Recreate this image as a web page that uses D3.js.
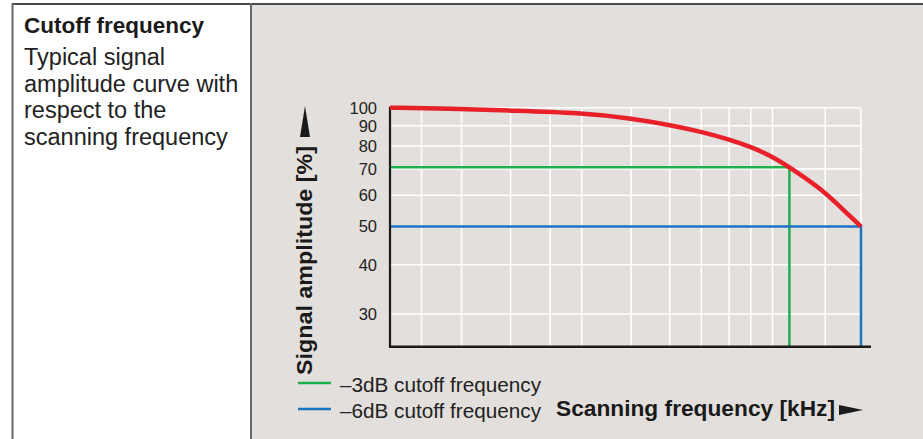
<!DOCTYPE html>
<html>
<head>
<meta charset="utf-8">
<script src="https://cdn.jsdelivr.net/npm/d3@7"></script>
<style>
  html, body { margin: 0; padding: 0; background: #fff; }
  svg { display: block; font-family: "Liberation Sans", Arial, Helvetica, sans-serif; }
</style>
</head>
<body>
<svg id="chart" width="923" height="439"></svg>
<script>
// frequency as % of the -6dB cutoff frequency (no tick labels on that axis)
var freqPct = [0, 12.7, 25.5, 40.3, 51.2, 59.4, 66.1, 72, 76.6, 81.2, 84.8, 91.3, 95.5, 100];
var amplitude = [100, 99.5, 98.3, 97.1, 94.0, 90.4, 86.9, 83.1, 79.6, 75.2, 70.7, 62.6, 56.2, 50];

var yTicks = [100, 90, 80, 70, 60, 50, 40, 30];
var xGrid = [6.7, 15.2, 25.6, 34, 40.7, 51.2, 59.4, 66.1, 72, 76.6, 81.2, 92.4, 100];

var cutoff3dB = {freq: 84.8, amp: 70.7};
var cutoff6dB = {freq: 100, amp: 50};

var legendItems = [
  {label: "\u20133dB cutoff frequency", color: "#1db04b"},
  {label: "\u20136dB cutoff frequency", color: "#1a74c2"}
];

var infoLines = ["Typical signal", "amplitude curve with", "respect to the", "scanning frequency"];

var svg = d3.select("#chart");

// panels
svg.append("rect").attr("x", 251).attr("y", 4).attr("width", 672).attr("height", 435).attr("fill", "#e2dfdc");
svg.append("line").attr("x1", 12.5).attr("x2", 923).attr("y1", 4).attr("y2", 4)
  .attr("stroke", "#4a4a4a").attr("stroke-width", 2);
svg.append("line").attr("x1", 12.5).attr("x2", 12.5).attr("y1", 3).attr("y2", 439)
  .attr("stroke", "#666").attr("stroke-width", 2);
svg.append("line").attr("x1", 251).attr("x2", 251).attr("y1", 3).attr("y2", 439)
  .attr("stroke", "#6a6a6a").attr("stroke-width", 2);

// left text block
svg.append("text").attr("x", 24).attr("y", 33)
  .attr("font-size", 22.5).attr("font-weight", "bold").attr("fill", "#1a1a1a")
  .text("Cutoff frequency");
svg.append("g").selectAll("text").data(infoLines).join("text")
  .attr("x", 24).attr("y", function (d, i) { return 65 + i * 26.5; })
  .attr("font-size", 23.5).attr("fill", "#222")
  .text(function (d) { return d; });

// scales
var x = d3.scaleLinear().domain([0, 100]).range([390, 861]);
var y = d3.scaleLog().domain([24.8, 100]).range([346.7, 107.7]);

var g = svg.append("g");

// grid
g.selectAll(".hgrid").data(yTicks).join("line").attr("class", "hgrid")
  .attr("x1", x(0)).attr("x2", x(100))
  .attr("y1", function (d) { return y(d); }).attr("y2", function (d) { return y(d); })
  .attr("stroke", "#fff").attr("stroke-width", 1.6);
g.selectAll(".vgrid").data(xGrid).join("line").attr("class", "vgrid")
  .attr("x1", function (d) { return x(d); }).attr("x2", function (d) { return x(d); })
  .attr("y1", y(100)).attr("y2", y.range()[0])
  .attr("stroke", "#fff").attr("stroke-width", 1.6);

// y tick labels
g.selectAll(".ytl").data(yTicks).join("text").attr("class", "ytl")
  .attr("x", 377).attr("y", function (d) { return y(d); }).attr("dy", "0.36em")
  .attr("text-anchor", "end").attr("font-size", 16.5).attr("fill", "#222")
  .text(function (d) { return d; });

// cutoff lines
[cutoff3dB, cutoff6dB].forEach(function (c, i) {
  g.append("path")
    .attr("d", "M" + x(0) + "," + y(c.amp) + "H" + x(c.freq) + "V" + y.range()[0])
    .attr("fill", "none").attr("stroke", legendItems[i].color).attr("stroke-width", 2.5);
});

// axes
g.append("line").attr("x1", x(0)).attr("x2", x(0)).attr("y1", y(100) - 1).attr("y2", y.range()[0] + 1)
  .attr("stroke", "#1a1a1a").attr("stroke-width", 2.2);
g.append("line").attr("x1", x(0) - 1).attr("x2", x(100) + 10).attr("y1", y.range()[0]).attr("y2", y.range()[0])
  .attr("stroke", "#1a1a1a").attr("stroke-width", 2.5);

// amplitude curve
var line = d3.line()
  .x(function (d, i) { return x(freqPct[i]); })
  .y(function (d) { return y(d); })
  .curve(d3.curveBasis);
g.append("path").datum(amplitude).attr("d", line)
  .attr("fill", "none").attr("stroke", "#e8202a").attr("stroke-width", 4.5);

// y title with arrow
svg.append("text")
  .attr("transform", "translate(312,375) rotate(-90)")
  .attr("font-size", 22.5).attr("font-weight", "bold").attr("fill", "#1a1a1a")
  .attr("textLength", 229).attr("lengthAdjust", "spacingAndGlyphs")
  .text("Signal amplitude [%]");
svg.append("path").attr("d", "M305,106L310,137L300,137Z").attr("fill", "#1a1a1a");

// x title with arrow
svg.append("text").attr("x", 556).attr("y", 416)
  .attr("font-size", 22.5).attr("font-weight", "bold").attr("fill", "#1a1a1a")
  .attr("textLength", 279).attr("lengthAdjust", "spacingAndGlyphs")
  .text("Scanning frequency [kHz]");
svg.append("path").attr("d", "M839,405L863,410L839,415Z").attr("fill", "#1a1a1a");

// legend
var lg = svg.append("g").selectAll("g").data(legendItems).join("g")
  .attr("transform", function (d, i) { return "translate(298," + (383 + i * 26) + ")"; });
lg.append("line").attr("x1", 0).attr("x2", 33).attr("stroke", function (d) { return d.color; }).attr("stroke-width", 2.5);
lg.append("text").attr("x", 42).attr("y", 8.5).attr("font-size", 20.5).attr("fill", "#222")
  .attr("textLength", 201).attr("lengthAdjust", "spacingAndGlyphs")
  .text(function (d) { return d.label; });
</script>
</body>
</html>
